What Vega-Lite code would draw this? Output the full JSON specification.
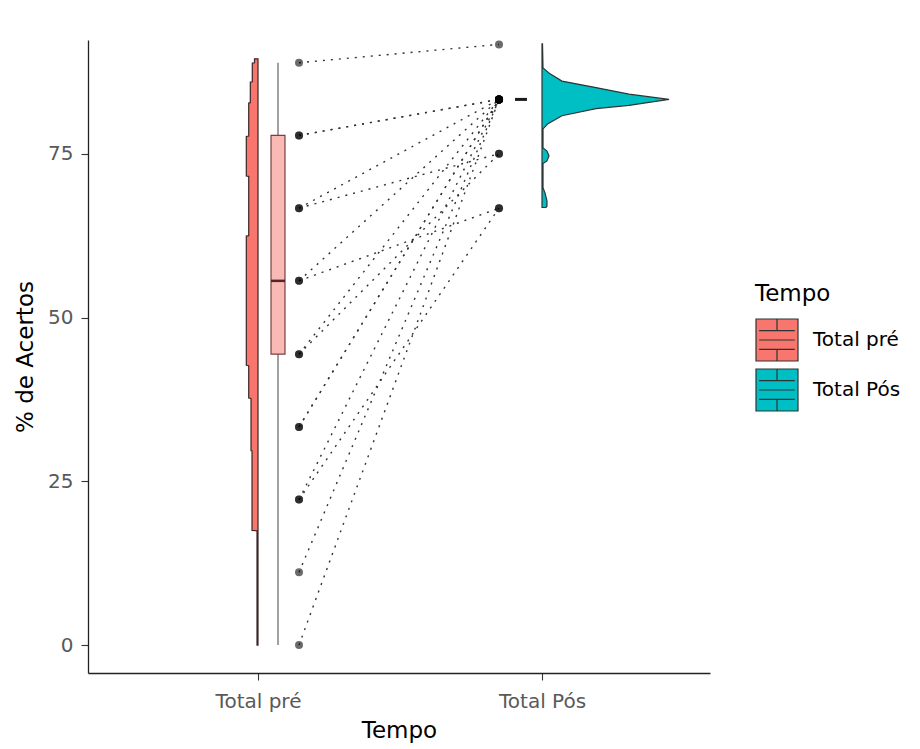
{
  "$schema": "https://vega.github.io/schema/vega-lite/v6.json",
  "width": 622,
  "height": 633,
  "autosize": "none",
  "padding": {"left": 88, "top": 40, "right": 210, "bottom": 76},
  "background": "white",
  "config": {
    "view": {"stroke": null},
    "font": "DejaVu Sans",
    "axis": {
      "grid": false,
      "domainColor": "#222222",
      "domainWidth": 1.3,
      "tickColor": "#333333",
      "tickWidth": 1.1,
      "tickSize": 7,
      "labelFontSize": 20,
      "labelColor": "#595959",
      "titleFontSize": 23,
      "titleFontWeight": "normal",
      "titleColor": "#000000"
    },
    "axisX": {"labelPadding": 11, "titlePadding": 8},
    "axisY": {"labelPadding": 8, "titlePadding": 10}
  },
  "datasets": {
    "subj": [
      {"id": 1, "pre": 0, "pos": 83.3},
      {"id": 2, "pre": 11.1, "pos": 83.3},
      {"id": 3, "pre": 22.2, "pos": 83.3},
      {"id": 4, "pre": 22.2, "pos": 66.7},
      {"id": 5, "pre": 33.3, "pos": 83.3},
      {"id": 6, "pre": 33.3, "pos": 83.3},
      {"id": 7, "pre": 44.4, "pos": 83.3},
      {"id": 8, "pre": 44.4, "pos": 75.0},
      {"id": 9, "pre": 55.6, "pos": 83.3},
      {"id": 10, "pre": 55.6, "pos": 66.7},
      {"id": 11, "pre": 66.7, "pos": 83.3},
      {"id": 12, "pre": 66.7, "pos": 75.0},
      {"id": 13, "pre": 77.8, "pos": 83.3},
      {"id": 14, "pre": 77.8, "pos": 83.3},
      {"id": 15, "pre": 88.9, "pos": 91.7}
    ],
    "vio": [
      {"tempo": "Total pré", "v": 0, "d": 0.0079},
      {"tempo": "Total pré", "v": 17.45, "d": 0.0079},
      {"tempo": "Total pré", "v": 17.5, "d": 0.0472},
      {"tempo": "Total pré", "v": 29.65, "d": 0.0472},
      {"tempo": "Total pré", "v": 29.7, "d": 0.0551},
      {"tempo": "Total pré", "v": 37.65, "d": 0.0551},
      {"tempo": "Total pré", "v": 37.7, "d": 0.0732},
      {"tempo": "Total pré", "v": 42.65, "d": 0.0732},
      {"tempo": "Total pré", "v": 42.7, "d": 0.0921},
      {"tempo": "Total pré", "v": 62.45, "d": 0.0921},
      {"tempo": "Total pré", "v": 62.5, "d": 0.0732},
      {"tempo": "Total pré", "v": 71.55, "d": 0.0732},
      {"tempo": "Total pré", "v": 71.6, "d": 0.0921},
      {"tempo": "Total pré", "v": 77.65, "d": 0.0921},
      {"tempo": "Total pré", "v": 77.7, "d": 0.0732},
      {"tempo": "Total pré", "v": 82.75, "d": 0.0732},
      {"tempo": "Total pré", "v": 82.8, "d": 0.0606},
      {"tempo": "Total pré", "v": 85.95, "d": 0.0606},
      {"tempo": "Total pré", "v": 86.0, "d": 0.0449},
      {"tempo": "Total pré", "v": 88.85, "d": 0.0449},
      {"tempo": "Total pré", "v": 88.9, "d": 0.0276},
      {"tempo": "Total pré", "v": 89.5, "d": 0.0276},
      {"tempo": "Total Pós", "v": 66.8, "d": 0.031},
      {"tempo": "Total Pós", "v": 67.0, "d": 0.039},
      {"tempo": "Total Pós", "v": 67.8, "d": 0.039},
      {"tempo": "Total Pós", "v": 69.0, "d": 0.024},
      {"tempo": "Total Pós", "v": 69.8, "d": 0.0079},
      {"tempo": "Total Pós", "v": 73.5, "d": 0.0079},
      {"tempo": "Total Pós", "v": 73.9, "d": 0.039},
      {"tempo": "Total Pós", "v": 74.7, "d": 0.055},
      {"tempo": "Total Pós", "v": 75.4, "d": 0.039},
      {"tempo": "Total Pós", "v": 75.9, "d": 0.0079},
      {"tempo": "Total Pós", "v": 78.8, "d": 0.0079},
      {"tempo": "Total Pós", "v": 79.6, "d": 0.047},
      {"tempo": "Total Pós", "v": 80.8, "d": 0.157},
      {"tempo": "Total Pós", "v": 81.9, "d": 0.425},
      {"tempo": "Total Pós", "v": 82.4, "d": 0.685},
      {"tempo": "Total Pós", "v": 83.3, "d": 1.0},
      {"tempo": "Total Pós", "v": 84.1, "d": 0.685},
      {"tempo": "Total Pós", "v": 85.1, "d": 0.425},
      {"tempo": "Total Pós", "v": 86.1, "d": 0.157},
      {"tempo": "Total Pós", "v": 87.2, "d": 0.063},
      {"tempo": "Total Pós", "v": 88.1, "d": 0.0079},
      {"tempo": "Total Pós", "v": 91.8, "d": 0.0039}
    ],
    "box": [
      {"tempo": "Total pré", "lower": 0, "q1": 44.4, "median": 55.6, "q3": 77.8, "upper": 88.9},
      {"tempo": "Total Pós", "lower": 83.3, "q1": 83.3, "median": 83.3, "q3": 83.3, "upper": 83.3}
    ]
  },
  "layer": [
    {
      "data": {"name": "vio"},
      "transform": [
        {"filter": "datum.tempo == 'Total pré'"},
        {"calculate": "1 - datum.d * 0.4472", "as": "xl"}
      ],
      "mark": {"type": "area", "orient": "horizontal", "stroke": "#3a2626", "strokeWidth": 1.2},
      "encoding": {
        "y": {"field": "v", "type": "quantitative", "title": "% de Acertos",
              "scale": {"domain": [-4.27, 92.37], "nice": false, "zero": false},
              "axis": {"values": [0, 25, 50, 75]}},
        "x": {"field": "xl", "type": "quantitative", "title": "Tempo", "stack": null,
              "scale": {"domain": [0.4014, 2.5915], "nice": false, "zero": false},
              "axis": {"values": [1, 2], "labelExpr": "datum.value == 1 ? 'Total pré' : 'Total Pós'", "labelFlush": false}},
        "x2": {"datum": 1},
        "fill": {"field": "tempo", "type": "nominal",
                 "scale": {"domain": ["Total pré", "Total Pós"], "range": ["#F8766D", "#00BFC4"]},
                 "legend": {
                   "title": "Tempo", "orient": "none", "legendX": 667, "legendY": 243,
                   "symbolType": "M-1,-1H1V1H-1Z M-0.85,-0.45H0.85 M-0.85,0H0.85 M-0.85,0.45H0.85 M0,-1V-0.45 M0,0.45V1",
                   "symbolSize": 1764, "symbolStrokeColor": "#3a3a3a", "symbolStrokeWidth": 1.2, "symbolOpacity": 1,
                   "titleFontSize": 23, "titleFontWeight": "normal", "titleColor": "#000000",
                   "labelFontSize": 20, "labelColor": "#000000", "labelOffset": 14,
                   "rowPadding": 2, "titlePadding": 12, "padding": 0
                 }}
      }
    },
    {
      "data": {"name": "vio"},
      "transform": [
        {"filter": "datum.tempo == 'Total Pós'"},
        {"calculate": "2 + datum.d * 0.4472", "as": "xr"}
      ],
      "mark": {"type": "area", "orient": "horizontal", "stroke": "#2b3535", "strokeWidth": 1.2},
      "encoding": {
        "y": {"field": "v", "type": "quantitative"},
        "x": {"field": "xr", "type": "quantitative", "stack": null},
        "x2": {"datum": 2},
        "fill": {"field": "tempo", "type": "nominal"}
      }
    },
    {
      "data": {"name": "box"},
      "transform": [{"filter": "datum.tempo == 'Total pré'"}],
      "mark": {"type": "rule", "color": "#6e6e6e", "strokeWidth": 1.3},
      "encoding": {
        "x": {"datum": 1.0704},
        "y": {"field": "lower", "type": "quantitative"},
        "y2": {"field": "upper"}
      }
    },
    {
      "data": {"name": "box"},
      "transform": [{"filter": "datum.tempo == 'Total pré'"}],
      "mark": {"type": "rect", "fill": "#F9BAB5", "stroke": "#7a4040", "strokeWidth": 1.2},
      "encoding": {
        "x": {"datum": 1.0458},
        "x2": {"datum": 1.095},
        "y": {"field": "q1", "type": "quantitative"},
        "y2": {"field": "q3"}
      }
    },
    {
      "data": {"name": "box"},
      "transform": [{"filter": "datum.tempo == 'Total pré'"}],
      "mark": {"type": "rule", "color": "#5a2323", "strokeWidth": 2.5},
      "encoding": {
        "x": {"datum": 1.0458},
        "x2": {"datum": 1.095},
        "y": {"field": "median", "type": "quantitative"}
      }
    },
    {
      "data": {"name": "box"},
      "transform": [{"filter": "datum.tempo == 'Total Pós'"}],
      "mark": {"type": "rule", "color": "#1a1a1a", "strokeWidth": 3},
      "encoding": {
        "x": {"datum": 1.905},
        "x2": {"datum": 1.947},
        "y": {"field": "median", "type": "quantitative"}
      }
    },
    {
      "data": {"name": "subj"},
      "mark": {"type": "rule", "color": "#333333", "strokeWidth": 1.4, "strokeDash": [2, 6]},
      "encoding": {
        "x": {"datum": 1.1444},
        "x2": {"datum": 1.8486},
        "y": {"field": "pre", "type": "quantitative"},
        "y2": {"field": "pos"}
      }
    },
    {
      "data": {"name": "subj"},
      "mark": {"type": "circle", "color": "#000000", "opacity": 0.58, "size": 64},
      "encoding": {
        "x": {"datum": 1.1444},
        "y": {"field": "pre", "type": "quantitative"}
      }
    },
    {
      "data": {"name": "subj"},
      "mark": {"type": "circle", "color": "#000000", "opacity": 0.58, "size": 64},
      "encoding": {
        "x": {"datum": 1.8486},
        "y": {"field": "pos", "type": "quantitative"}
      }
    }
  ]
}
